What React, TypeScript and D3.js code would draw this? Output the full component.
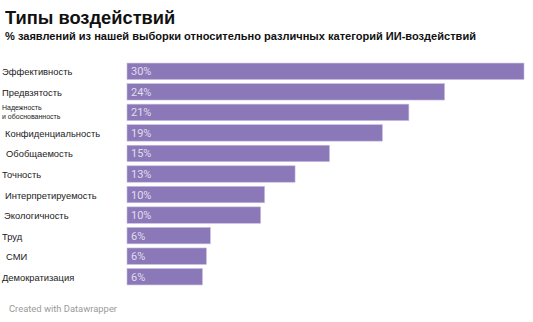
import React from "react";
import * as d3 from "d3";

const categories = [
  "Эффективность",
  "Предвзятость",
  "Надежность|и обоснованность",
  " Конфиденциальность",
  "  Обобщаемость",
  "Точность",
  " Интерпретируемость",
  " Экологичность",
  "Труд",
  "  СМИ",
  "Демократизация",
];
const values = [30, 24, 21.3, 19.3, 15.3, 12.7, 10.4, 10.1, 6.3, 6.0, 5.7];
const valueLabels = ["30%", "24%", "21%", "19%", "15%", "13%", "10%", "10%", "6%", "6%", "6%"];
const labelIndent = [0, 0, 0, 3, 4, 0, 3, 2, 0, 4, 0];

const W = 533;
const H = 322;

export default function App() {
  const x = d3.scaleLinear().domain([0, 30]).range([127, 524]);
  const y = d3
    .scaleBand<number>()
    .domain(d3.range(categories.length))
    .range([61, 287])
    .paddingInner(0.2)
    .paddingOuter(0.1);
  const font = "'Liberation Sans', Arial, sans-serif";
  const valFont = "Roboto, 'Liberation Sans', Arial, sans-serif";
  return (
    <svg
      width={W}
      height={H}
      style={{ position: "absolute", left: 0, top: 0, background: "#fff" }}
    >
      <text x={5} y={24} fontFamily={font} fontWeight="bold" fontSize={18.3} fill="#111">
        Типы воздействий
      </text>
      <text x={5} y={40} fontFamily={font} fontWeight="bold" fontSize={11.05} fill="#111">
        % заявлений из нашей выборки относительно различных категорий ИИ-воздействий
      </text>
      {categories.map((c, i) => {
        const y0 = y(i)!;
        const bh = y.bandwidth();
        const cy = y0 + bh / 2;
        const parts = c.trim().split("|");
        return (
          <g key={i}>
            <rect x={x(0)} y={y0} width={x(values[i]) - x(0)} height={bh} fill="#8b78b8" stroke="#c9bde0" strokeWidth={0.6} />
            <text x={x(0) + 4} y={cy + 4} fontFamily={valFont} fontSize={11} fill="#fff" fillOpacity={0.75}>
              {valueLabels[i]}
            </text>
            {parts.length === 1 ? (
              <text x={2 + labelIndent[i]} y={cy + 4} fontFamily={font} fontSize={9.4} fill="#222">
                {parts[0]}
              </text>
            ) : (
              <text fontFamily={font} fontSize={7} fill="#222">
                <tspan x={2} y={cy - 2}>{parts[0]}</tspan>
                <tspan x={2} y={cy + 7}>{parts[1]}</tspan>
              </text>
            )}
          </g>
        );
      })}
      <text x={9} y={312} fontFamily={valFont} fontSize={9.4} fill="#9a9a9a">
        Created with Datawrapper
      </text>
    </svg>
  );
}
